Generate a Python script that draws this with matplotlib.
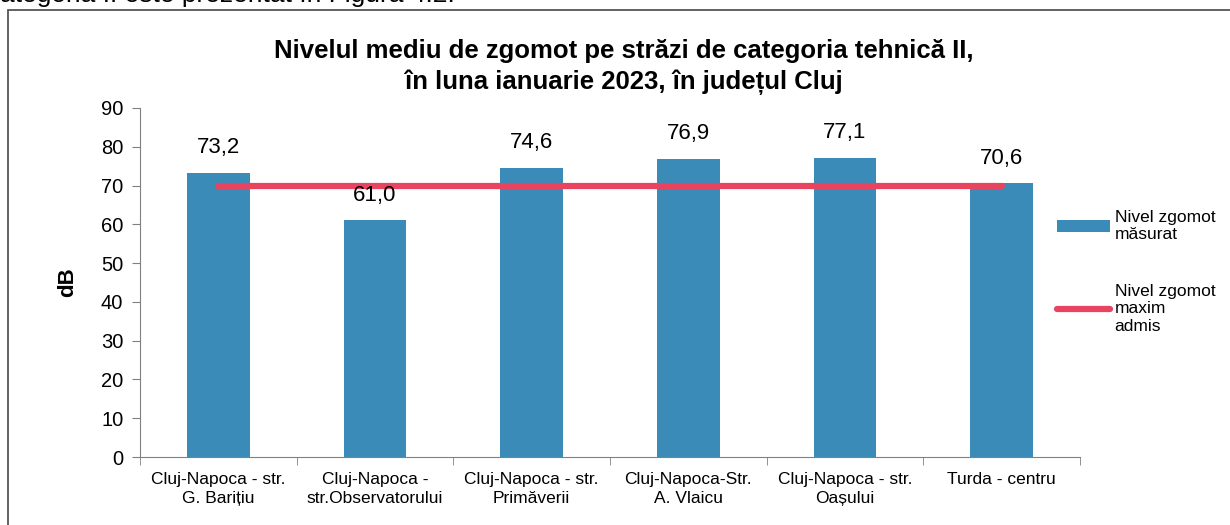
import numpy as np
import matplotlib.pyplot as plt
from matplotlib.patches import Rectangle

plt.rcParams['font.family'] = ['Liberation Sans', 'DejaVu Sans']

categories = ["Cluj-Napoca - str.\nG. Barițiu", "Cluj-Napoca -\nstr.Observatorului",
              "Cluj-Napoca - str.\nPrimăverii", "Cluj-Napoca-Str.\nA. Vlaicu",
              "Cluj-Napoca - str.\nOașului", "Turda - centru"]
measured = [73.2, 61.0, 74.6, 76.9, 77.1, 70.6]
limit = [70, 70, 70, 70, 70, 70]

bar_color = "#3a8bb8"
line_color = "#e8445f"
axis_color = "#808080"

fig = plt.figure(figsize=(12.3, 5.25), dpi=100)
ax = fig.add_axes([0.1138, 0.1295, 0.7642, 0.6648])

x = np.arange(len(categories))
bars = ax.bar(x, measured, width=0.4, color=bar_color, zorder=2)
line, = ax.plot(x, limit, color=line_color, lw=4.5, solid_capstyle='round', zorder=3)

# etichete valori
for xi, v in zip(x, measured):
    ax.text(xi, v + 6.5, f"{v:.1f}".replace(".", ","), ha="center", va="center", fontsize=16)

ax.set_xlim(-0.5, len(categories) - 0.5)
ax.set_ylim(0, 90)
ax.set_yticks(range(0, 91, 10))
ax.tick_params(axis='y', labelsize=14.5, length=6, color=axis_color, pad=6)
ax.set_xticks(x)
ax.set_xticklabels(categories, fontsize=12.5, linespacing=1.3)
ax.tick_params(axis='x', length=0, pad=11)
ax.set_xticks(np.arange(-0.5, len(categories), 1), minor=True)
ax.tick_params(axis='x', which='minor', length=6, color=axis_color)
for s in ['top', 'right']:
    ax.spines[s].set_visible(False)
for s in ['left', 'bottom']:
    ax.spines[s].set_color(axis_color)
ax.set_ylabel("dB", fontsize=16, fontweight='bold')
ax.yaxis.set_label_coords(-0.066, 0.5)

fig.text(0.507, 0.872, "Nivelul mediu de zgomot pe străzi de categoria tehnică II,\n"
         "în luna ianuarie 2023, în județul Cluj",
         ha='center', va='center', fontsize=18.5, fontweight='bold', linespacing=1.35)

fig.legend([bars, line], ["Nivel zgomot\nmăsurat", "Nivel zgomot\nmaxim\nadmis"],
           loc='upper left', bbox_to_anchor=(0.859, 0.60), frameon=False,
           fontsize=12.5, handlelength=3.1, handletextpad=0.25, labelspacing=2.4,
           borderpad=0, borderaxespad=0)

# textul documentului de deasupra, taiat de marginea de sus
fig.text(0.0, 0.997, "ategoria II este prezentat în Figura 4.2.", fontsize=19,
         ha='left', va='baseline')

fig.patches.append(Rectangle((0.0065, -0.05), 1.0, 1.031, transform=fig.transFigure,
                             fill=False, edgecolor="#555555", lw=1.3))

fig.savefig("out.png", dpi=100)
